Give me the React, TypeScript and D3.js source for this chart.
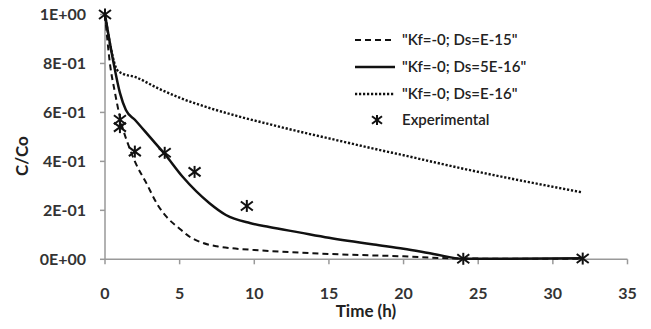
import React from 'react';
import * as d3 from 'd3';

// Time (h) / C/Co
const dashedT = [0, 0.33, 0.67, 1, 1.67, 2, 2.78, 3.5, 4.1, 5, 5.67, 6.5, 7.5, 8.5, 10, 15, 20, 24, 32];
const dashedC = [1, 0.8, 0.68, 0.58, 0.45, 0.4, 0.31, 0.225, 0.175, 0.125, 0.092, 0.068, 0.053, 0.045, 0.038, 0.022, 0.012, 0.003, 0.002];

const solidT = [0, 0.55, 1, 1.4, 2, 3, 4, 5.2, 7, 8.1, 9.7, 11, 13, 15, 18, 20, 22, 24, 32];
const solidC = [1, 0.81, 0.68, 0.61, 0.57, 0.5, 0.43, 0.337, 0.229, 0.181, 0.148, 0.132, 0.11, 0.088, 0.06, 0.043, 0.022, 0.002, 0.004];

const dottedT = [0, 0.4, 0.8, 1.2, 2, 3.5, 5, 7, 9, 11, 13, 15, 18, 20, 24, 28, 32];
const dottedC = [1, 0.86, 0.775, 0.758, 0.745, 0.7, 0.66, 0.618, 0.583, 0.552, 0.522, 0.494, 0.452, 0.425, 0.37, 0.32, 0.273];

const expT = [0, 1, 1, 2, 4, 6, 9.5, 24, 32];
const expC = [1, 0.57, 0.54, 0.44, 0.435, 0.357, 0.218, 0.002, 0.003];

const xTicks = [0, 5, 10, 15, 20, 25, 30, 35];
const yTicks = [0, 0.2, 0.4, 0.6, 0.8, 1.0];
const yTickLabels = ['0E+00', '2E-01', '4E-01', '6E-01', '8E-01', '1E+00'];

const legendLabels = ['"Kf=-0; Ds=E-15"', '"Kf=-0; Ds=5E-16"', '"Kf=-0; Ds=E-16"', 'Experimental'];

const W = 651;
const H = 329;
const font = 'Lato, "Open Sans", sans-serif';

const Star = ({ x, y, s = 6 }: { x: number; y: number; s?: number }) => (
  <g stroke="#111" strokeWidth={2}>
    <line x1={x - s} y1={y - s * 0.75} x2={x + s} y2={y + s * 0.75} />
    <line x1={x - s} y1={y + s * 0.75} x2={x + s} y2={y - s * 0.75} />
    <line x1={x} y1={y - s} x2={x} y2={y + s} />
  </g>
);

export default function App() {
  const x = d3.scaleLinear().domain([0, 35]).range([105, 627.5]);
  const y = d3.scaleLinear().domain([0, 1]).range([259.3, 14.5]);

  const line = d3
    .line<[number, number]>()
    .x(d => x(d[0]))
    .y(d => y(d[1]))
    .curve(d3.curveMonotoneX);

  const zip = (t: number[], c: number[]) => t.map((v, i) => [v, c[i]] as [number, number]);

  const series = [
    { data: zip(dashedT, dashedC), dash: '6,4', w: 2 },
    { data: zip(solidT, solidC), dash: undefined, w: 2.5 },
    { data: zip(dottedT, dottedC), dash: '2.2,1.8', w: 2.4 },
  ];

  const legendY = [40, 67, 94, 120];

  return (
    <svg width={W} height={H} style={{ position: 'absolute', left: 0, top: 0, background: '#fff' }}>
      <rect width={W} height={H} fill="#fff" />

      {/* axes */}
      <line x1={x(0)} y1={y(0)} x2={x(0)} y2={y(1)} stroke="#999" strokeWidth={1.5} />
      <line x1={x(0)} y1={y(0)} x2={x(35)} y2={y(0)} stroke="#999" strokeWidth={1.5} />
      {yTicks.map(t => (
        <line key={'yt' + t} x1={x(0) - 5} x2={x(0)} y1={y(t)} y2={y(t)} stroke="#999" strokeWidth={1.5} />
      ))}
      {xTicks.map(t => (
        <line key={'xt' + t} x1={x(t)} x2={x(t)} y1={y(0)} y2={y(0) + 5} stroke="#999" strokeWidth={1.5} />
      ))}

      {yTicks.map((t, i) => (
        <text key={'yl' + t} x={86} y={y(t)} dy="0.35em" textAnchor="end" fontFamily={font} fontWeight={700} fontSize={16} fill="#333">
          {yTickLabels[i]}
        </text>
      ))}
      {xTicks.map(t => (
        <text key={'xl' + t} x={x(t)} y={293} dy="0.35em" textAnchor="middle" fontFamily={font} fontWeight={700} fontSize={16} fill="#333">
          {t}
        </text>
      ))}

      <text x={366} y={311} dy="0.35em" textAnchor="middle" fontFamily={font} fontWeight={700} fontSize={17} fill="#222">
        Time (h)
      </text>
      <text transform={`translate(22,156) rotate(-90)`} dy="0.35em" textAnchor="middle" fontFamily={font} fontWeight={700} fontSize={17} fill="#222">
        C/Co
      </text>

      {/* curves */}
      {series.map((s, i) => (
        <path key={'s' + i} d={line(s.data) || ''} fill="none" stroke="#111" strokeWidth={s.w} strokeDasharray={s.dash} />
      ))}

      {expT.map((t, i) => (
        <Star key={'e' + i} x={x(t)} y={y(expC[i])} />
      ))}

      {/* legend */}
      {series.map((s, i) => (
        <line key={'lg' + i} x1={355} x2={395} y1={legendY[i]} y2={legendY[i]} stroke="#111" strokeWidth={s.w} strokeDasharray={s.dash} />
      ))}
      <Star x={377} y={legendY[3]} s={5} />
      {legendLabels.map((l, i) => (
        <text key={'lt' + i} x={402} y={legendY[i]} dy="0.35em" fontFamily={font} fontWeight={600} fontSize={15} fill="#222">
          {l}
        </text>
      ))}
    </svg>
  );
}
